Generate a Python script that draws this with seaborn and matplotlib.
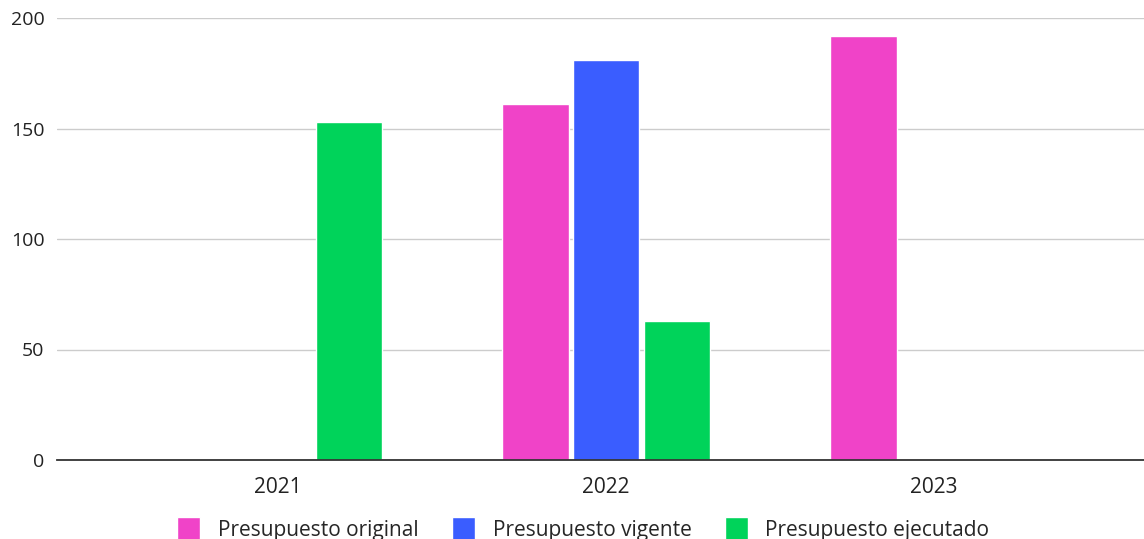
import numpy as np
import pandas as pd
import matplotlib
matplotlib.use("Agg")
import matplotlib.pyplot as plt
import seaborn as sns

years = ["2021", "2022", "2023"]
series = ["Presupuesto original", "Presupuesto vigente", "Presupuesto ejecutado"]
original = [np.nan, 161, 192]
vigente = [np.nan, 181, np.nan]
ejecutado = [153, 63, np.nan]
colors = ["#F043C8", "#3A5DFF", "#00D35A"]

rows = []
for name, values in zip(series, [original, vigente, ejecutado]):
    for year, v in zip(years, values):
        if not np.isnan(v):
            rows.append({"year": year, "serie": name, "valor": v})
df = pd.DataFrame(rows)

sns.set_style("white")
plt.rcParams['font.family'] = ['Open Sans', 'DejaVu Sans']

fig = plt.figure(figsize=(11.44, 5.39), dpi=100)
ax = fig.add_axes([57 / 1144, 79 / 539, 1 - 57 / 1144, (460 - 18) / 539])

sns.barplot(data=df, x="year", y="valor", hue="serie", order=years, hue_order=series,
            palette=colors, width=0.646, gap=0.06, saturation=1, ax=ax, legend=True)

ax.set_xlim(-0.674, 2.64)
ax.set_ylim(0, 200)
ax.set_yticks([0, 50, 100, 150, 200])
ax.yaxis.grid(True, color="#cccccc", linewidth=1)
ax.set_axisbelow(True)
for s in ["top", "right", "left"]:
    ax.spines[s].set_visible(False)
ax.spines["bottom"].set_color("#333333")
ax.spines["bottom"].set_linewidth(1.3)
ax.tick_params(axis="both", length=0, colors="#222222")
ax.tick_params(axis="y", pad=9, labelsize=14)
ax.tick_params(axis="x", pad=12, labelsize=15)
ax.set_xlabel("")
ax.set_ylabel("")

handles, labels = ax.get_legend_handles_labels()
ax.get_legend().remove()
fig.legend(handles, labels, loc="center", bbox_to_anchor=(0.510, 10 / 539), ncol=3,
           frameon=False, fontsize=15, handlelength=1.1, handleheight=1.3,
           columnspacing=1.6, handletextpad=0.85, borderpad=0, borderaxespad=0)

fig.savefig("out.png", dpi=100)
